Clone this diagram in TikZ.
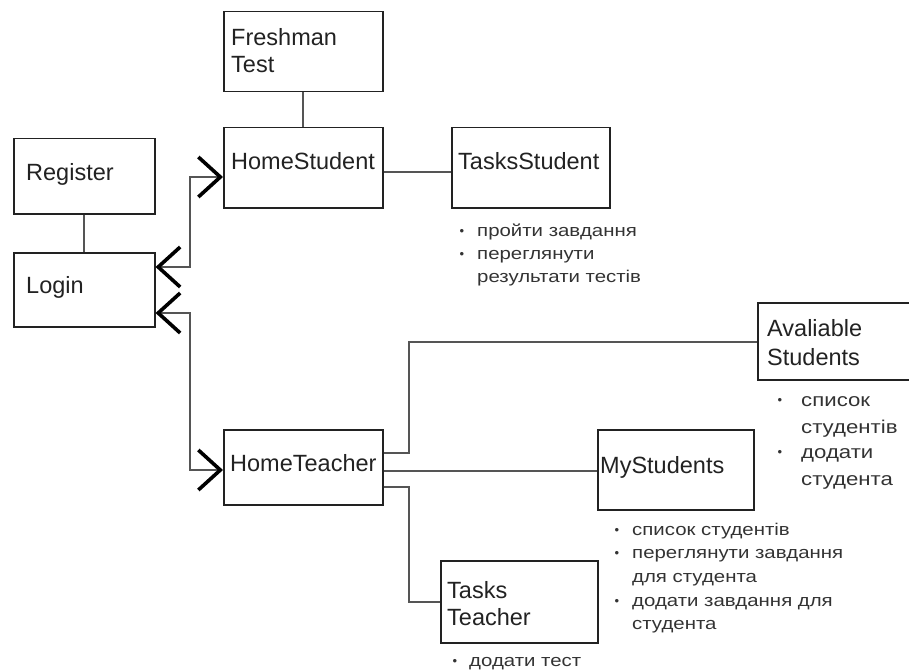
\documentclass[tikz,border=0pt]{standalone}
\usepackage{fontspec}
\setmainfont{Liberation Sans}
\newfontfamily\notefont[FakeStretch=1.2]{Liberation Sans}
\usetikzlibrary{arrows.meta,calc}

\definecolor{boxline}{HTML}{222222}
\definecolor{wire}{HTML}{555555}
\definecolor{ink}{HTML}{222222}
\definecolor{noteink}{HTML}{333333}

\tikzset{
  box/.style={draw=boxline, line width=1.5pt, anchor=north west, inner sep=0pt},
  lbl/.style={anchor=base west, inner sep=0pt, text=ink, font=\fontsize{23.5}{27}\selectfont},
  note/.style={anchor=base west, inner sep=0pt, text=noteink, font=\notefont\fontsize{17}{20}\selectfont},
  bignote/.style={note, font=\notefont\fontsize{18.5}{22}\selectfont},
  dot/.style={inner sep=0pt, text=noteink, font=\fontsize{13}{14}\selectfont},
  wireline/.style={draw=wire, line width=1.6pt},
  chev/.tip={Straight Barb[length=22pt, width=40pt, line width=3.6pt, color=black]},
  link/.style={wireline, chev-chev},
}

\begin{document}
\begin{tikzpicture}[x=1pt, y=-1pt]
\useasboundingbox (0,0) rectangle (909,671);
\clip (0,0) rectangle (909,671);

% ---------- boxes ----------
\node[box, minimum width=159pt, minimum height=80pt] (Freshman) at (223,11) {};
\node[box, minimum width=159pt, minimum height=80pt] (HomeStudent) at (223,127) {};
\node[box, minimum width=158pt, minimum height=80pt] (TasksStudent) at (451,127) {};
\node[box, minimum width=141pt, minimum height=75pt] (Register) at (13,138) {};
\node[box, minimum width=141pt, minimum height=74pt] (Login) at (13,252) {};
\node[box, minimum width=159pt, minimum height=77pt] (Avaliable) at (757,302) {};
\node[box, minimum width=156pt, minimum height=80pt] (MyStudents) at (597,429) {};
\node[box, minimum width=159pt, minimum height=75pt] (HomeTeacher) at (223,429) {};
\node[box, minimum width=157pt, minimum height=82pt] (TasksTeacher) at (440,560) {};

% ---------- box labels ----------
\node[lbl] (freshA) at (231,46) {Freshman};
\node[lbl] (freshB) at (231,73) {Test};
\node[lbl] (homeS) at (231,170) {HomeStudent};
\node[lbl] (tasksS) at (458,170) {TasksStudent};
\node[lbl] (reg) at (26,180) {Register};
\node[lbl] (log) at (26,293) {Login};
\node[lbl] (avA) at (767,336) {Avaliable};
\node[lbl] (avB) at (767,365) {Students};
\node[lbl] (myS) at (600,473) {MyStudents};
\node[lbl] (homeT) at (230,471) {HomeTeacher};
\node[lbl] (tasksTA) at (447,598) {Tasks};
\node[lbl] (tasksTB) at (447,625) {Teacher};

% ---------- plain connectors ----------
\draw[wireline] (Register.south) -- (Login.north);
\draw[wireline] (Freshman.south) -- (HomeStudent.north);
\draw[wireline] (HomeStudent.east |- 0,172) -- (TasksStudent.west |- 0,172);

\coordinate (avBend) at (409,453);
\coordinate (ttBend) at (409,487);
\draw[wireline] (HomeTeacher.east |- avBend) -- (avBend) |- (Avaliable.west |- 0,342);
\draw[wireline] (HomeTeacher.east |- 0,471) -- (MyStudents.west |- 0,471);
\draw[wireline] (HomeTeacher.east |- ttBend) -- (ttBend) |- (TasksTeacher.west |- 0,602);

% ---------- double-headed links ----------
\coordinate (upBend) at (190,267);
\coordinate (downBend) at (190,313);
\draw[link] (Login.east |- upBend) -- (upBend) |- (HomeStudent.west |- 0,177);
\draw[link] (Login.east |- downBend) -- (downBend) |- (HomeTeacher.west |- 0,470);

% ---------- notes ----------
\node[dot] (tsd1) at (462,232) {•};
\node[note] (ts1) at (477,236.5) {пройти завдання};
\node[dot] (tsd2) at (462,255) {•};
\node[note] (ts2) at (477,259.5) {переглянути};
\node[note] (ts3) at (477,282.5) {результати тестів};

\node[dot] (avd1) at (780,401) {•};
\node[bignote] (av1) at (801,406) {список};
\node[bignote] (av2) at (801,433) {студентів};
\node[dot] (avd2) at (780,453) {•};
\node[bignote] (av3) at (801,458) {додати};
\node[bignote] (av4) at (801,485) {студента};

\node[dot] (msd1) at (617,531) {•};
\node[note] (ms1) at (632,535.5) {список студентів};
\node[dot] (msd2) at (617,554) {•};
\node[note] (ms2) at (632,558.5) {переглянути завдання};
\node[note] (ms3) at (632,582.5) {для студента};
\node[dot] (msd3) at (617,602) {•};
\node[note] (ms4) at (632,606.5) {додати завдання для};
\node[note] (ms5) at (632,629.5) {студента};

\node[dot] (ttd1) at (455,662) {•};
\node[note] (tt1) at (469,666.5) {додати тест};
\end{tikzpicture}
\end{document}
